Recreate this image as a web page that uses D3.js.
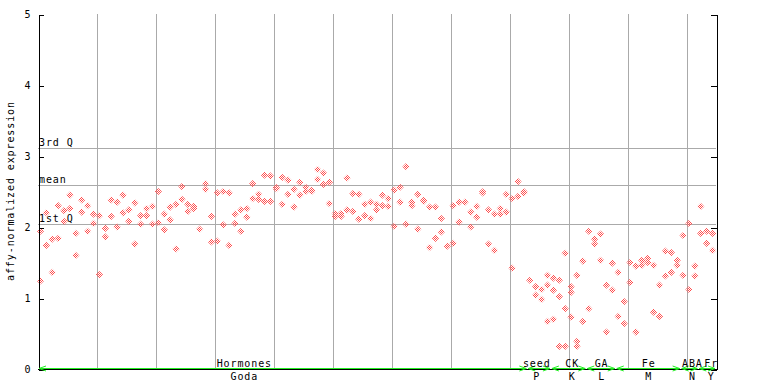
<!DOCTYPE html>
<html><head><meta charset="utf-8">
<script src="https://cdn.jsdelivr.net/npm/d3@7"></script>
<style>
html,body{margin:0;padding:0;background:#fff;}
text{font-family:"DejaVu Sans Mono",monospace;font-size:10px;letter-spacing:0.9px;fill:#000;}
</style></head>
<body>
<svg id="chart" width="768" height="384"></svg>
<script>
// ---- data (values per sample column, each column holds its replicates) ----
const godaValues = [
 [1.94,1.24],[2.20,1.74],[1.83,1.36],[2.30,1.84],[2.23,2.08],[2.45,2.26],[1.91,1.60],[2.38,2.21],[2.30,1.94],[2.18,2.05],
 [2.16,1.33],[1.98,1.86],[2.38,2.15],[2.35,2.00],[2.45,2.20],[2.24,2.08],[2.34,1.76],[2.16,2.04],[2.26,2.16],[2.29,2.04],
 [2.50,2.06],[2.18,1.96],[2.28,2.10],[2.32,1.69],[2.57,2.39],[2.32,2.22],[2.29,2.26],[1.97],[2.61,2.53],[2.15,1.79],
 [2.48,1.80],[2.50,2.03],[2.48,1.74],[2.18,2.05],[2.24,1.94],[2.26,2.14],[2.61,2.40],[2.46,2.39],[2.73,2.36],[2.72,2.36],
 [2.54,2.555],[2.70,2.32],[2.66,2.46],[2.53,2.28],[2.63,2.45],[2.56,2.50],[2.50,2.515],[2.81,2.67],[2.76,2.60],[2.63,2.33],
 [2.19,2.15],[2.19,2.15],[2.69,2.24],[2.47,2.22],[2.46,2.11],[2.32,2.16],[2.35,2.12],[2.32,2.24],[2.45,2.30],[2.40,2.29],
 [2.52,2.01],[2.56,2.35],[2.85,2.04],[2.35,2.30],[2.46,1.97],[2.36,2.375],[2.28,1.71],[2.28,1.84],[2.12,1.93],[1.73],
 [2.30,1.77],[2.35,2.07],[2.35],[2.21,2.00],[2.29,2.14],[2.48,2.495],[2.24,1.76],[2.18,1.67],[2.26,2.18],[2.46,2.21],
 [2.40,1.42],[2.64,2.43],[2.50,2.48]
];
const seedValues = [[1.25],[1.16,1.04],[1.12,0.98],[1.32,1.18,0.67]];
const ckValues = [[1.28,1.11,0.70],[1.25,1.02,0.32],[1.63,0.85,0.32],[1.16,1.08,0.73],[1.32,0.39,0.32],[1.52,0.67]];
const gaValues = [[1.94,0.85],[1.83,1.76],[1.90,1.53],[1.18,0.52],[1.49,1.11]];
const feValues = [[1.36,0.74],[0.95,0.64],[1.50,1.22],[1.45,0.52],[1.53,1.46],[1.56,1.50],[1.46,0.80],[1.18,0.74],[1.66,1.31],[1.64,1.36],[1.53,1.46]];
const abaValues = [[1.88,1.32],[2.05,1.12],[1.45,1.31]];
const frValues = [[2.29,1.91],[1.94,1.77],[1.91,1.67]];

const groupTop = ["Hormones","seed","CK","GA","Fe","ABA","Fr"];
const groupBottom = ["Goda","P","K","L","M","N","Y"];
const groupLabelCol = [35, 84.6, 90.6, 95.6, 103.6, 111, 114.2];
const yTicks = [0,1,2,3,4,5];
const quartiles = [{name:"3rd Q", v:3.11},{name:"mean", v:2.585},{name:"1st Q", v:2.04}];
const yTitle = "affy-normalized expression";

// ---- build ----
const groupsValues = [godaValues, seedValues, ckValues, gaValues, feValues, abaValues, frValues];
const columns = groupsValues.flat();
const nCols = columns.length;
const groups = [];
let c0 = 0;
groupsValues.forEach((g,i)=>{ groups.push({top:groupTop[i], bottom:groupBottom[i], start:c0, end:c0+g.length, label:groupLabelCol[i]}); c0 += g.length; });
const points = [];
columns.forEach((vals,i)=>vals.forEach(v=>points.push({i, v})));

const svg = d3.select("#chart");
const L = 38, R = 716, T = 14, B = 369;
const x = d3.scaleLinear().domain([0,nCols]).range([L,R]);
const y = d3.scaleLinear().domain([0,5]).range([B,T]);

const defs = svg.append("defs");
const pat = defs.append("pattern").attr("id","chk").attr("width",2).attr("height",2).attr("patternUnits","userSpaceOnUse");
pat.append("rect").attr("x",0).attr("y",0).attr("width",1).attr("height",1).attr("fill","#ff4d4d");
pat.append("rect").attr("x",1).attr("y",1).attr("width",1).attr("height",1).attr("fill","#ff4d4d");

svg.append("rect").attr("width",768).attr("height",384).attr("fill","#fff");

// vertical grid every 10 columns
const vg = d3.range(10, nCols, 10);
svg.append("g").selectAll("line").data(vg).join("line")
  .attr("x1",d=>Math.round(x(d))+0.5).attr("x2",d=>Math.round(x(d))+0.5)
  .attr("y1",T).attr("y2",B).attr("stroke","#aaa").attr("stroke-width",1);

// quartile lines
const qg = svg.append("g");
qg.selectAll("line").data(quartiles).join("line")
  .attr("x1",L).attr("x2",R)
  .attr("y1",d=>Math.round(y(d.v))+0.5).attr("y2",d=>Math.round(y(d.v))+0.5)
  .attr("stroke","#aaa").attr("stroke-width",1);

// points
svg.append("g").selectAll("path").data(points).join("path")
  .attr("d",d=>{const cx = x(d.i+0.5)-0.5, cy = y(d.v), r = 3.6; return `M${cx},${cy-r}L${cx+r},${cy}L${cx},${cy+r}L${cx-r},${cy}Z`;})
  .attr("fill","url(#chk)");

qg.selectAll("text").data(quartiles).join("text")
  .attr("x",L+1).attr("y",d=>Math.round(y(d.v))-2.5).text(d=>d.name);

// axes
const yl = d3.axisLeft(y).tickValues(yTicks).tickFormat(d3.format("d")).tickSizeInner(-5).tickSizeOuter(0).tickPadding(7);
const ga = svg.append("g").attr("transform",`translate(${L+0.5},0)`).call(yl);
ga.selectAll("path,line").attr("stroke","#000").attr("shape-rendering","crispEdges");
ga.selectAll("text").attr("font-family",null).attr("font-size",null).attr("dy","0.35em");
ga.selectAll(".tick line").attr("transform","translate(0,0.5)");
const yr = d3.axisRight(y).tickValues(yTicks).tickFormat("").tickSizeInner(-6).tickSizeOuter(0);
const gr = svg.append("g").attr("transform",`translate(${R+0.5},0)`).call(yr);
gr.selectAll("path,line").attr("stroke","#000").attr("shape-rendering","crispEdges");
gr.selectAll(".tick line").attr("transform","translate(0,0.5)");

svg.append("line").attr("x1",L).attr("x2",R+1).attr("y1",B+0.5).attr("y2",B+0.5).attr("stroke","#000");

// green group arrows
const gg = svg.append("g").attr("stroke","#22ee22").attr("fill","none").attr("stroke-width",1);
const gy = B - 0.5;
groups.forEach(g=>{
  const xs = x(g.start)+1, xe = x(g.end)-1;
  gg.append("line").attr("x1",xs).attr("x2",xe).attr("y1",gy).attr("y2",gy).attr("shape-rendering","crispEdges");
  gg.append("path").attr("d",`M${xs+7},${gy-2.5}L${xs},${gy}L${xs+7},${gy+2.5}`);
  gg.append("path").attr("d",`M${xe-7},${gy-2.5}L${xe},${gy}L${xe-7},${gy+2.5}`);
});

// group labels
svg.append("g").selectAll("text").data(groups).join("text")
  .attr("x",d=>x(d.label)).attr("y",366.5).attr("text-anchor","middle").text(d=>d.top);
svg.append("g").selectAll("text").data(groups).join("text")
  .attr("x",d=>x(d.label)).attr("y",380).attr("text-anchor","middle").text(d=>d.bottom);

// y title
svg.append("text").attr("transform","translate(14,191) rotate(-90)").attr("text-anchor","middle").text(yTitle);
</script>
</body></html>
